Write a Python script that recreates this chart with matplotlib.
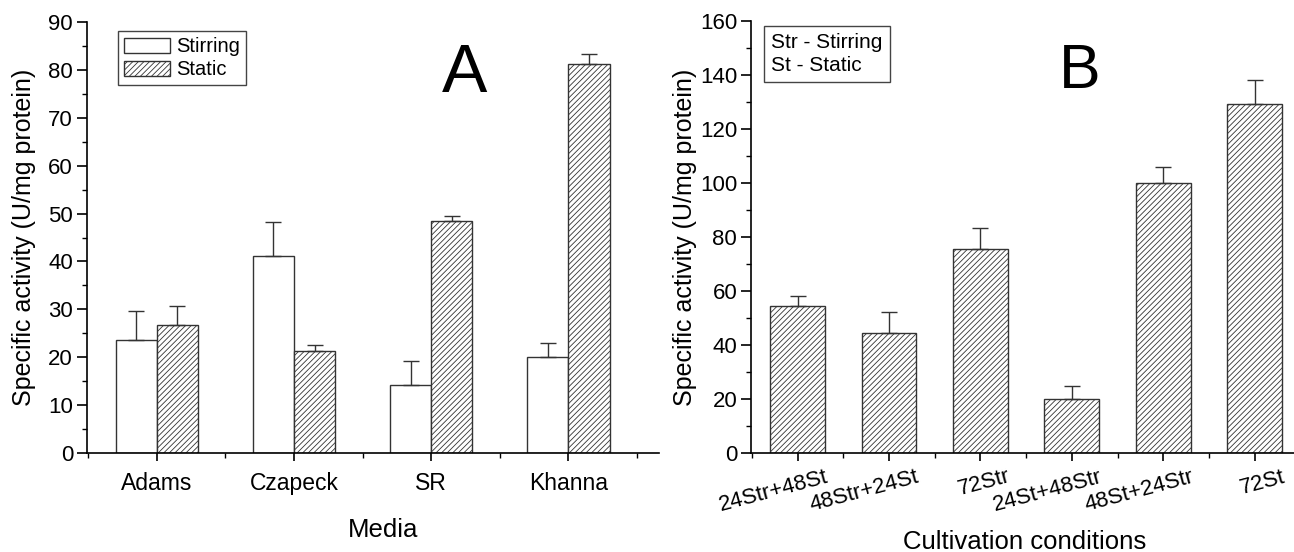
import matplotlib
matplotlib.use('Agg')
import matplotlib.pyplot as plt
import matplotlib.transforms as mtransforms
from matplotlib.ticker import MultipleLocator, FixedLocator
import numpy as np

plt.rcParams['font.family'] = ['Liberation Sans', 'DejaVu Sans']
plt.rcParams['hatch.linewidth'] = 0.6
plt.rcParams['hatch.color'] = '#333333'

# Panel A data
media = ['Adams', 'Czapeck', 'SR', 'Khanna']
stirring = [23.7, 41.2, 14.2, 20.0]
stirring_err = [6.0, 7.0, 5.0, 3.0]
static = [26.7, 21.4, 48.5, 81.3]
static_err = [4.0, 1.1, 1.0, 2.1]

# Panel B data
conditions = ['24Str+48St', '48Str+24St', '72Str', '24St+48Str', '48St+24Str', '72St']
activity = [54.3, 44.5, 75.4, 19.9, 99.9, 129.1]
activity_err = [3.9, 7.9, 7.9, 5.0, 6.0, 8.9]

edge = '#333333'
fig = plt.figure(figsize=(12.94, 5.52), dpi=100)

# ---- Panel A ----
axA = fig.add_axes([0.0672, 0.1793, 0.4420, 0.7807])
x = np.arange(1, len(media) + 1)
w = 0.30
axA.bar(x - w / 2, stirring, w, color='white', edgecolor=edge, linewidth=1.0,
        label='Stirring')
axA.bar(x + w / 2, static, w, color='white', edgecolor=edge, linewidth=1.0,
        hatch='//////', label='Static')
axA.errorbar(x - w / 2, stirring, yerr=[np.zeros(4), stirring_err], fmt='none',
             ecolor=edge, elinewidth=1.0, capsize=5.5, capthick=1.0)
axA.errorbar(x + w / 2, static, yerr=[np.zeros(4), static_err], fmt='none',
             ecolor=edge, elinewidth=1.0, capsize=5.5, capthick=1.0)
axA.set_xlim(0.49, 4.66)
axA.set_ylim(0, 90)
axA.set_xticks(x)
axA.set_xticklabels(media)
axA.xaxis.set_minor_locator(FixedLocator([0.5, 1.5, 2.5, 3.5, 4.5]))
axA.yaxis.set_major_locator(MultipleLocator(10))
axA.yaxis.set_minor_locator(MultipleLocator(5))
axA.set_ylabel('Specific activity (U/mg protein)', fontsize=18)
axA.yaxis.set_label_coords(-0.089, 0.5)
fig.text(383 / 1294, 1 - 537 / 552, 'Media', fontsize=18.5, ha='center',
         va='baseline')
axA.legend(loc='upper left', bbox_to_anchor=(0.036, 1.002), fontsize=14.5,
           fancybox=False, edgecolor='#444444', framealpha=1,
           handlelength=2.3, handleheight=0.8, handletextpad=0.3,
           borderpad=0.3, labelspacing=0.2)
axA.text((465 - 87) / 572, (453 - 73.5) / 431, 'A', transform=axA.transAxes,
         fontsize=49, ha='center', va='center')

# ---- Panel B ----
axB = fig.add_axes([0.5804, 0.1793, 0.4196, 0.7827])
xb = np.arange(1, len(conditions) + 1)
axB.bar(xb, activity, 0.6, color='white', edgecolor=edge, linewidth=1.0,
        hatch='//////')
axB.errorbar(xb, activity, yerr=[np.zeros(len(xb)), activity_err], fmt='none',
             ecolor=edge, elinewidth=1.0, capsize=5.5, capthick=1.0)
axB.set_xlim(0.49, 6.43)
axB.set_ylim(0, 160)
axB.set_xticks(xb)
axB.set_xticklabels(conditions, rotation=15, ha='right', va='top',
                    rotation_mode='anchor', fontsize=16)
axB.xaxis.set_minor_locator(FixedLocator([0.5, 1.5, 2.5, 3.5, 4.5, 5.5]))
axB.yaxis.set_major_locator(MultipleLocator(20))
axB.yaxis.set_minor_locator(MultipleLocator(10))
axB.set_ylabel('Specific activity (U/mg protein)', fontsize=18)
axB.yaxis.set_label_coords(-0.10, 0.5)
fig.text(1025 / 1294, 1 - 549 / 552, 'Cultivation conditions', fontsize=18.5,
         ha='center', va='baseline')
axB.text(0.037, 0.972, 'Str - Stirring\nSt - Static', transform=axB.transAxes,
         fontsize=15, va='top', ha='left', linespacing=1.25,
         bbox=dict(boxstyle='square,pad=0.35', facecolor='white',
                   edgecolor='#444444'))
axB.text((1080 - 751) / 543, (453 - 72) / 432, 'B', transform=axB.transAxes,
         fontsize=45, ha='center', va='center')

for ax in (axA, axB):
    ax.spines['top'].set_visible(False)
    ax.spines['right'].set_visible(False)
    ax.spines['left'].set_linewidth(1.2)
    ax.spines['bottom'].set_linewidth(1.2)
    ax.tick_params(axis='y', which='major', direction='out', length=7,
                   width=1.2, labelsize=16, pad=3)
    ax.tick_params(axis='y', which='minor', direction='out', length=3.5,
                   width=1.0)
    ax.tick_params(axis='x', which='major', direction='out', length=6,
                   width=1.2)
    ax.tick_params(axis='x', which='minor', direction='out', length=3.5,
                   width=1.0)
axA.tick_params(axis='x', which='major', labelsize=16.5, pad=8)

# shift the rotated B labels right, after tick_params (which resets transforms)
shift = mtransforms.ScaledTranslation(27 / 100, 0, fig.dpi_scale_trans)
for lab in axB.get_xticklabels():
    lab.set_transform(lab.get_transform() + shift)

fig.savefig('out.png', dpi=100)
